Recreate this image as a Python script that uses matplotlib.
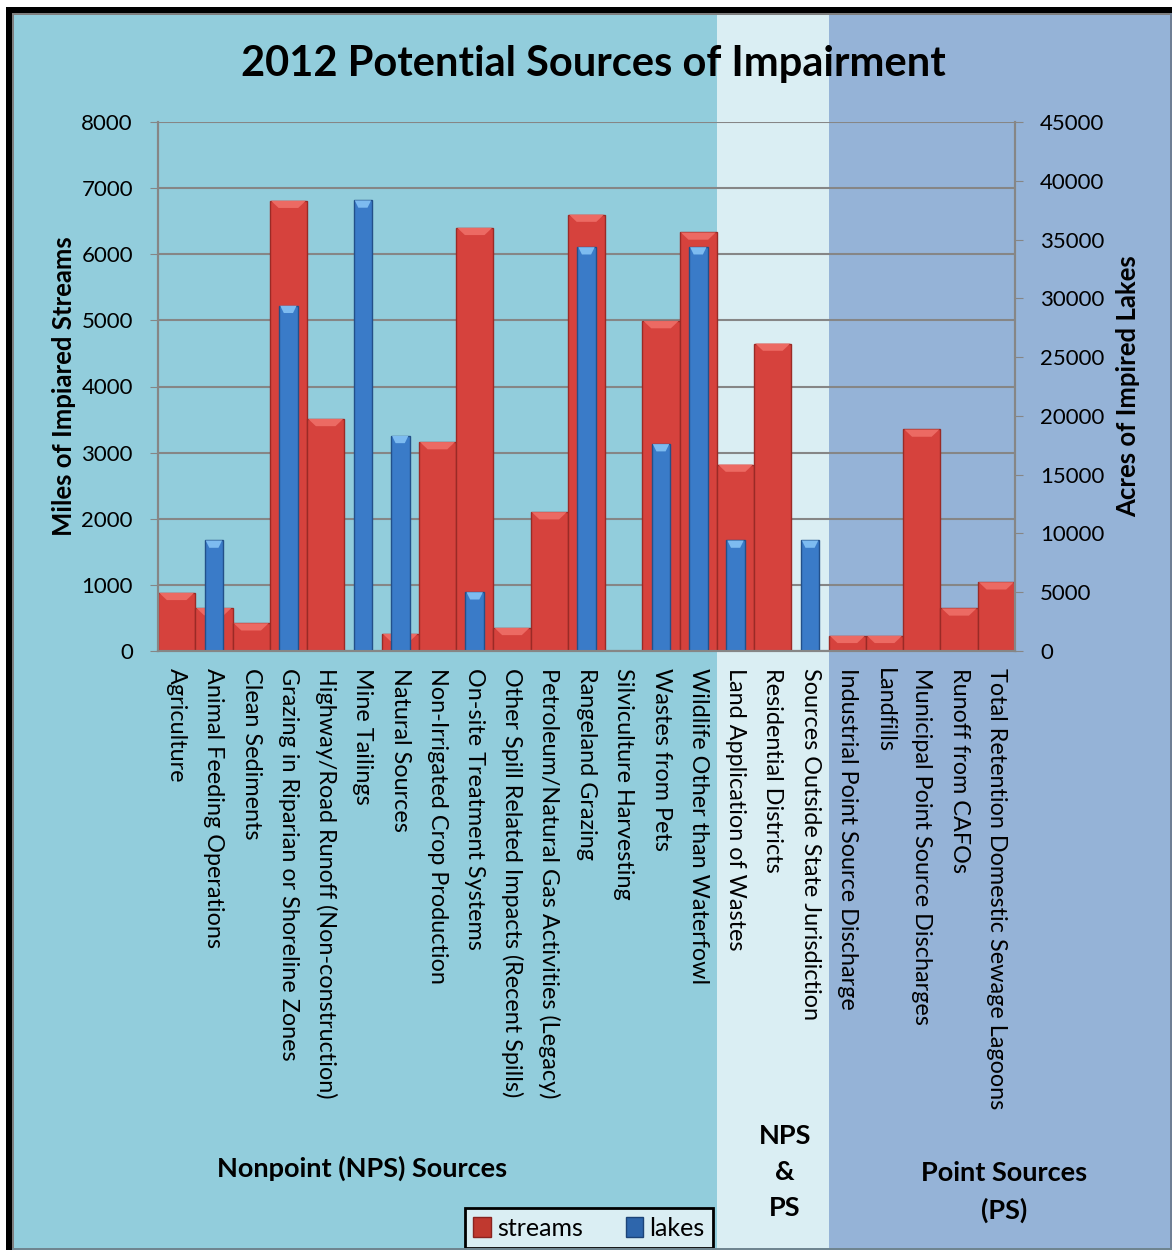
import matplotlib
matplotlib.use("Agg")
import matplotlib.pyplot as plt
import matplotlib.transforms as mtransforms
from matplotlib.patches import Rectangle, Polygon, Patch

plt.rcParams['font.family'] = ['Lato', 'DejaVu Sans']

# data
categories = ['Agriculture', 'Animal Feeding Operations', 'Clean Sediments',
              'Grazing in Riparian or Shoreline Zones',
              'Highway/Road Runoff (Non-construction)', 'Mine Tailings',
              'Natural Sources', 'Non-Irrigated Crop Production',
              'On-site Treatment Systems',
              'Other Spill Related Impacts (Recent Spills)',
              'Petroleum/Natural Gas Activities (Legacy)', 'Rangeland Grazing',
              'Silviculture Harvesting', 'Wastes from Pets',
              'Wildlife Other than Waterfowl', 'Land Application of Wastes',
              'Residential Districts', 'Sources Outside State Jurisdiction',
              'Industrial Point Source Discharge', 'Landfills',
              'Municipal Point Source Discharges', 'Runoff from CAFOs',
              'Total Retention Domestic Sewage Lagoons']
streams = [880, 650, 420, 6810, 3510, 0, 260, 3160, 6400, 350, 2100, 6600,
           0, 4990, 6330, 2820, 4650, 0, 230, 230, 3350, 645, 1040]
lakes = [0, 9400, 0, 29370, 0, 38330, 18300, 0, 5000, 0, 0, 34350,
         0, 17600, 34350, 9400, 0, 9400, 0, 0, 0, 0, 0]

# group bands: (first index, last index, colour)
groups = [(-20, 14, '#92CDDC'), (15, 17, '#DAEEF3'), (18, 40, '#95B3D7')]

fig = plt.figure(figsize=(11.72, 12.5), dpi=100)
fig.patch.set_facecolor('white')
ax = fig.add_axes([158 / 1172, 1 - 651 / 1250, 857 / 1172, 529 / 1250])
ax2 = ax.twinx()
ax.patch.set_alpha(0)
ax2.patch.set_alpha(0)

# background bands spanning the whole figure height
trans = mtransforms.blended_transform_factory(ax.transData, fig.transFigure)
for i0, i1, col in groups:
    r = Rectangle((i0 - 0.5, 0), i1 - i0 + 1, 1, transform=trans,
                  facecolor=col, edgecolor='none', zorder=-5)
    fig.add_artist(r)

x = list(range(len(categories)))
ax.bar(x, streams, width=1.0, color='#D6423D', edgecolor='#9A2A26',
       linewidth=1.0, zorder=2)
ax2.bar(x, lakes, width=0.5, color='#3A7BC8', edgecolor='#22508A',
        linewidth=1.0, zorder=2)

# bevel on bar tops
def bevel(a, xs, vals, w, h, col):
    for xi, v in zip(xs, vals):
        if v <= 0:
            continue
        hh = min(h, v * 0.5)
        pts = [(xi - w / 2, v), (xi + w / 2, v),
               (xi + w / 2 - w * 0.22, v - hh), (xi - w / 2 + w * 0.22, v - hh)]
        a.add_patch(Polygon(pts, closed=True, facecolor=col,
                            edgecolor='none', zorder=3))

bevel(ax, x, streams, 0.94, 110, '#EC6A63')
bevel(ax2, x, lakes, 0.44, 620, '#7DBBF0')

ax.set_xlim(-0.5, len(categories) - 0.5)
ax.set_ylim(0, 8000)
ax2.set_ylim(0, 45000)
ax.set_yticks(range(0, 8001, 1000))
ax2.set_yticks(range(0, 45001, 5000))
ax.set_xticks(x)
ax.set_xticklabels(categories, rotation=-90, fontsize=16.8, va='top', ha='center')

ax.set_axisbelow(True)
ax.yaxis.grid(True, color='#868686', linewidth=1.5)
for a in (ax, ax2):
    a.spines['top'].set_visible(False)
    for s in ('left', 'right', 'bottom'):
        a.spines[s].set_color('#868686')
        a.spines[s].set_linewidth(1.5)
ax.tick_params(axis='y', direction='out', length=6, color='#868686',
               labelsize=16, pad=12)
ax2.tick_params(axis='y', direction='out', length=6, color='#868686',
                labelsize=16, pad=12)
ax.tick_params(axis='x', length=0, pad=12)

ax.set_ylabel('Miles of Impiared Streams', fontsize=18.5, fontweight='bold')
ax.yaxis.set_label_coords(-0.096, 0.5)
ax2.set_ylabel('Acres of Impired Lakes', fontsize=18.5, fontweight='bold',
               rotation=90)
ax2.yaxis.set_label_coords(1.118, 0.5)

fig.text(593 / 1172, 1 - 64 / 1250, '2012 Potential Sources of Impairment',
         fontsize=30, fontweight='bold', ha='center', va='center')

fig.text(362 / 1172, 1 - 1168 / 1250, 'Nonpoint (NPS) Sources', fontsize=19.5,
         fontweight='bold', ha='center', va='center')
fig.text(785 / 1172, 1 - 1172 / 1250, 'NPS\n&\nPS', fontsize=19.5,
         fontweight='bold', ha='center', va='center', linespacing=1.62)
fig.text(1004 / 1172, 1 - 1192 / 1250, 'Point Sources\n(PS)', fontsize=19.5,
         fontweight='bold', ha='center', va='center', linespacing=1.62)

handles = [Patch(facecolor='#C0392F', edgecolor='#8A2420', label='streams'),
           Patch(facecolor='#2E66AC', edgecolor='#1D4478', label='lakes')]
leg = fig.legend(handles=handles, loc='center', ncol=2,
                 bbox_to_anchor=(589 / 1172, 1 - 1228 / 1250), fontsize=18,
                 frameon=True, fancybox=False, handlelength=0.7,
                 handleheight=0.9, handletextpad=0.25, columnspacing=1.7,
                 borderpad=0.35)
leg.get_frame().set_facecolor('#DAEEF3')
leg.get_frame().set_edgecolor('black')
leg.get_frame().set_linewidth(2)
leg.get_frame().set_alpha(1)

# outer frame
W, H = 1172, 1250
def frect(x0, y0, x1, y1, col, z=10):
    fig.add_artist(Rectangle((x0 / W, 1 - y1 / H), (x1 - x0) / W,
                             (y1 - y0) / H, transform=fig.transFigure,
                             facecolor=col, edgecolor='none', zorder=z))

frect(0, 0, W, 7, 'white')
frect(0, 0, 6, H, 'white')
frect(6, 7, W, 13, 'black')
frect(6, 7, 12, H, 'black')
frect(12, 13, W, 15, '#7F7F7F')
frect(12, 13, 14, H, '#7F7F7F')
frect(W - 2, 13, W, H, '#6F7F95')
frect(12, H - 2, W, H, '#6F8590')

fig.savefig('out.png', dpi=100)
